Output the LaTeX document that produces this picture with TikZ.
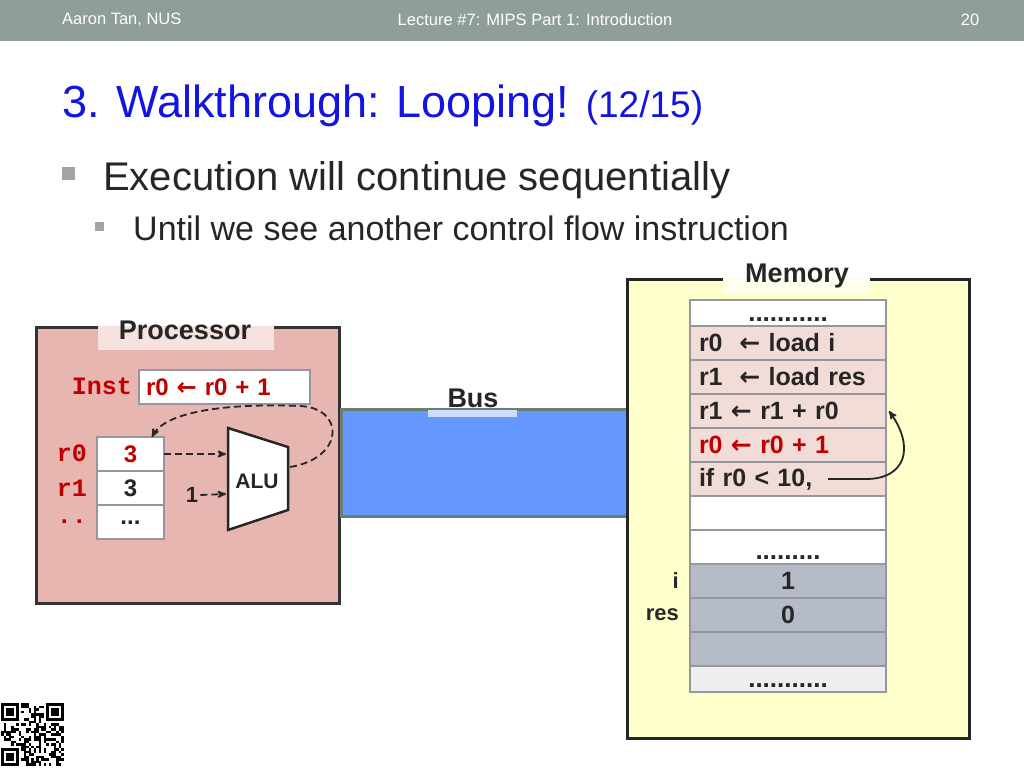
\documentclass[tikz,border=0pt]{standalone}
\usepackage{fontspec}
\setmainfont{Liberation Sans}
\setmonofont{Liberation Mono}
\newfontfamily\arrowfont{DejaVu Sans}
\usetikzlibrary{arrows}
\usetikzlibrary{calc,positioning}

\definecolor{hdrgray}{RGB}{143,158,150}
\definecolor{titleblue}{RGB}{20,20,225}
\definecolor{textdark}{RGB}{38,38,38}
\definecolor{regred}{RGB}{192,0,0}
\definecolor{procpink}{RGB}{232,182,176}
\definecolor{proctab}{RGB}{246,226,223}
\definecolor{busblue}{RGB}{102,153,255}
\definecolor{busedge}{RGB}{110,125,112}
\definecolor{bustab}{RGB}{205,222,255}
\definecolor{memyellow}{RGB}{255,255,204}
\definecolor{memtab}{RGB}{255,255,238}
\definecolor{codepink}{RGB}{242,220,216}
\definecolor{datagray}{RGB}{181,187,199}
\definecolor{endgray}{RGB}{239,239,239}
\definecolor{cellline}{RGB}{150,150,160}
\definecolor{bulletgray}{RGB}{160,165,165}

\newcommand{\fs}[1]{\fontsize{#1}{#1}\selectfont}
\newcommand{\getsarrow}{{\arrowfont\bfseries ←}}

\tikzset{
 hdrtext/.style={text=white, font=\fs{16.5}, inner sep=0pt},
 memcell/.style={draw=cellline, line width=1.2pt, minimum width=196pt, minimum height=34pt, inner sep=0pt, outer sep=0pt, font=\bfseries\fs{25}, text=textdark},
 memcode/.style={memcell, fill=codepink, text width=178pt, inner xsep=9pt, align=left},
 memdata/.style={memcell, fill=datagray},
 memdots/.style={font=\bfseries\fs{26}, text=textdark, inner sep=0pt},
 memlbl/.style={font=\bfseries\fs{22}, text=textdark, inner sep=0pt},
 regcell/.style={draw=cellline, fill=white, line width=1.2pt, minimum width=67pt, minimum height=34pt, inner sep=0pt, outer sep=0pt, font=\bfseries\fs{24}},
 reglabel/.style={font=\ttfamily\bfseries\fs{25}, text=regred, anchor=east, inner sep=0pt},
 boxtitle/.style={font=\bfseries\fs{27}, text=textdark, inner sep=0pt},
 bigbox/.style={line width=3pt, anchor=north west, inner sep=0pt},
 dasharrow/.style={textdark, line width=1.8pt, dash pattern=on 7pt off 4pt, ->, >=stealth'},
}

\begin{document}
\begin{tikzpicture}[x=1pt,y=-1pt]
\fill[white] (0,0) rectangle (1024,768);
\useasboundingbox (0,0) rectangle (1024,768);

% header bar
\fill[hdrgray] (0,0) rectangle (1024,41);
\node[hdrtext, anchor=west] (author) at (62,20) {Aaron Tan, NUS};
\node[hdrtext] (lecture) at (535,20) {Lecture \#7: MIPS Part 1: Introduction};
\node[hdrtext] (pageno) at (970,20) {20};

% title and bullets
\node[anchor=base west, text=titleblue, font=\fs{45}, inner sep=0pt] (title) at (62,117) {3. Walkthrough: Looping! {\fs{37}(12/15)}};
\fill[bulletgray] (62,167) rectangle (75,180);
\node[anchor=base west, text=textdark, font=\fs{40}, inner sep=0pt] (point1) at (103,190) {Execution will continue sequentially};
\fill[bulletgray] (95,222) rectangle (104,231);
\node[anchor=base west, text=textdark, font=\fs{34}, inner sep=0pt] (point2) at (133,240) {Until we see another control flow instruction};

% processor
\node[bigbox, draw=black!80, fill=procpink, minimum width=303pt, minimum height=276pt] (proc) at (35,326) {};
\fill[proctab] (98,326) rectangle (274,350);
\node[boxtitle] (proctitle) at (185,330) {Processor};

\node[reglabel] (instlbl) at (132,386) {Inst};
\node[regcell, anchor=north west, minimum width=171pt, text width=157pt, inner xsep=7pt, align=left, text=regred, font=\bfseries\fs{24}] (instbox) at (139,370) {r0\ \getsarrow\ r0 + 1};

\node[regcell, anchor=north west, text=regred] (reg0) at (97,437) {3};
\node[regcell, below=0pt of reg0, text=textdark] (reg1) {3};
\node[regcell, below=0pt of reg1, text=textdark] (reg2) {\raisebox{-5pt}{...}};
\node[reglabel] (r0lbl) at (87,453) {r0};
\node[reglabel] (r1lbl) at (87,488) {r1};
\node[reglabel] (r2lbl) at (87,522) {..};

% ALU
\coordinate (alutl) at (228,428);
\coordinate (alutr) at (288,447);
\coordinate (alubr) at (288,510);
\coordinate (alubl) at (228,530);
\draw[line width=2.5pt, draw=textdark, fill=white, line join=miter] (alutl) -- (alutr) -- (alubr) -- (alubl) -- cycle;
\node[font=\bfseries\fs{21}, text=textdark, inner sep=0pt] (alu) at (257,481) {ALU};
\coordinate (aluin0) at (226,454);
\coordinate (aluin1) at (226,494);
\coordinate (aluout) at (290,467);
\node[font=\bfseries\fs{22}, text=textdark, inner sep=0pt] (one) at (192,495) {1};

\draw[dasharrow] (reg0.east) -- (aluin0);
\draw[dasharrow] ([xshift=2pt]one.east) -- (aluin1);
\draw[dasharrow] (aluout) .. controls (345,458) and (345,408) .. (300,406)
   .. controls (225,403) and (165,412) .. ([xshift=-12pt]reg0.north east);

% bus
\node[bigbox, draw=busedge, fill=busblue, minimum width=286pt, minimum height=107pt] (bus) at (340,408) {};
\fill[bustab] (428,409.5) rectangle (517,417);
\node[boxtitle] (bustitle) at (473,398) {Bus};

% memory
\node[bigbox, draw=black!85, fill=memyellow, minimum width=342pt, minimum height=459pt] (mem) at (626,278) {};
\fill[memtab] (723,277) rectangle (870,293);
\node[boxtitle] (memtitle) at (797,276) {Memory};

\node[memcell, fill=white, minimum height=26pt, anchor=north west] (m0) at (690,300) {};
\node[memcode, below=0pt of m0] (m1) {r0\ \ \getsarrow\ load i};
\node[memcode, below=0pt of m1] (m2) {r1\ \ \getsarrow\ load res};
\node[memcode, below=0pt of m2] (m3) {r1 \getsarrow\ r1 + r0};
\node[memcode, below=0pt of m3, text=regred] (m4) {r0 \getsarrow\ r0 + 1};
\node[memcode, below=0pt of m4] (m5) {if r0 < 10,};
\node[memcell, fill=white, below=0pt of m5] (m6) {};
\node[memcell, fill=white, below=0pt of m6] (m7) {};
\node[memdata, below=0pt of m7] (m8) {1};
\node[memdata, below=0pt of m8] (m9) {0};
\node[memdata, below=0pt of m9] (m10) {};
\node[memcell, fill=endgray, minimum height=26pt, below=0pt of m10] (m11) {};

\node[memdots, anchor=south] (m0dots) at ([yshift=4pt]m0.south) {...........};
\node[memdots, anchor=south] (m7dots) at ([yshift=4pt]m7.south) {.........};
\node[memdots, anchor=south] (m11dots) at ([yshift=4pt]m11.south) {...........};

\node[memlbl, left=11pt of m8] (ilbl) {i};
\node[memlbl, left=11pt of m9] (reslbl) {res};

% branch back
\coordinate (jmpfrom) at ($(m5.east)+(-58pt,0)$);
\coordinate (jmpmid) at ($(m5.east)+(-20pt,0)$);
\coordinate (jmpto) at ($(m3.east)+(3pt,0)$);
\draw[textdark, line width=1.8pt, ->, >=stealth'] (jmpfrom) -- (jmpmid)
   .. controls +(40,0) and +(26,36) .. (jmpto);

% qr code
\pgfmathsetseed{42}
\foreach \i in {0,...,24} {
 \foreach \j in {0,...,24} {
  \pgfmathtruncatemacro\qrbit{rnd<0.5}
  \ifnum\qrbit=1 \fill[black] (1+2.5*\i,703+2.5*\j) rectangle ++(2.5,2.5); \fi
 }
}
\foreach \cx/\cy in {1/703, 46/703, 1/748} {
 \fill[white] (\cx-2.5,\cy-2.5) rectangle ++(22.5,22.5);
 \fill[black] (\cx,\cy) rectangle ++(17.5,17.5);
 \fill[white] (\cx+2.5,\cy+2.5) rectangle ++(12.5,12.5);
 \fill[black] (\cx+5,\cy+5) rectangle ++(7.5,7.5);
}
\end{tikzpicture}
\end{document}
